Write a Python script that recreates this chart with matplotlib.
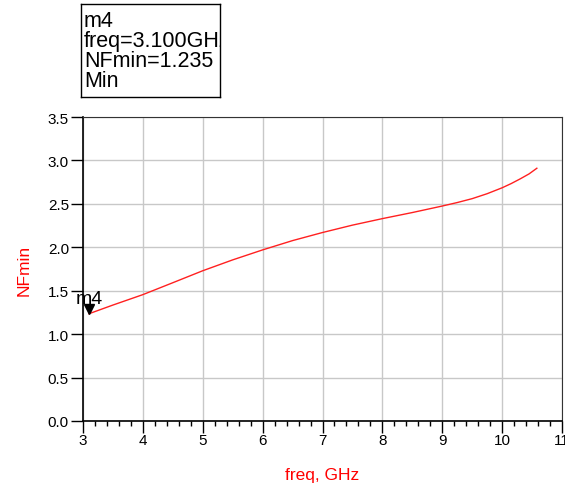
import matplotlib
matplotlib.use("Agg")
import matplotlib.pyplot as plt
from matplotlib.ticker import MultipleLocator

plt.rcParams['font.family'] = ['Liberation Sans', 'DejaVu Sans']

freq = [3.1, 3.5, 4.0, 4.5, 5.0, 5.5, 6.0, 6.5, 7.0, 7.5, 8.0, 8.5, 9.0, 9.25, 9.5, 9.75,
        10.0, 10.15, 10.3, 10.45, 10.58]
nfmin = [1.235, 1.335, 1.455, 1.592, 1.73, 1.855, 1.97, 2.077, 2.17, 2.255, 2.33, 2.40, 2.475,
         2.515, 2.56, 2.617, 2.685, 2.733, 2.787, 2.845, 2.91]
marker_name = "m4"
marker_freq = 3.1
marker_val = 1.235
box_lines = ["m4", "freq=3.100GHz", "NFmin=1.235", "Min"]

W, H = 565, 489
fig = plt.figure(figsize=(W/100, H/100), dpi=100)
ax = fig.add_axes([83/W, (H-422)/H, (562-83)/W, (422-118)/H])
ax.plot(freq, nfmin, color='#ff2020', lw=1.0, zorder=3)
ax.set_xlim(3, 11)
ax.set_ylim(0, 3.5)
ax.xaxis.set_minor_locator(MultipleLocator(0.2))
ax.set_xticks(range(3, 12))
ax.set_xticklabels([str(v) for v in range(3, 12)])
yt = [0, 0.5, 1, 1.5, 2, 2.5, 3, 3.5]
ax.set_yticks(yt)
ax.set_yticklabels([f"{v:.1f}" for v in yt])
ax.grid(True, which='major', color='#c8c8c8', lw=1.0)
ax.set_axisbelow(True)
ax.tick_params(axis='x', which='major', direction='out', length=8.5, width=1, labelsize=11, pad=0.5)
ax.tick_params(axis='x', which='minor', direction='out', length=3.6, width=1)
ax.tick_params(axis='y', which='major', direction='out', length=8.6, width=1, labelsize=11, pad=1.5)
for s in ['left', 'bottom']:
    ax.spines[s].set_color('black')
    ax.spines[s].set_linewidth(1.2)
ax.spines['top'].set_color('#333333')
ax.spines['right'].set_color('#333333')
ax.set_xlabel("freq, GHz", color='red', fontsize=12.5, labelpad=14)
ax.set_ylabel("NFmin", color='red', fontsize=12.5, labelpad=12)

ax.plot([marker_freq], [marker_val + 0.05], marker='v', color='black', ms=6.5, clip_on=False, zorder=4)
ax.annotate(marker_name, (marker_freq, marker_val), xytext=(0, 7.5), textcoords='offset points',
            ha='center', va='baseline', fontsize=14, annotation_clip=False)

bax = fig.add_axes([81/W, (H-98)/H, (220-81)/W, (98-5)/H])
bax.set_xticks([]); bax.set_yticks([])
bax.set_xlim(0, 1); bax.set_ylim(0, 1)
for s in bax.spines.values():
    s.set_color('black'); s.set_linewidth(1.0)
bax.text(0.02, 0.5, "\n".join(box_lines), ha='left', va='center', fontsize=15.5,
         linespacing=0.95, clip_on=True, transform=bax.transAxes)

fig.savefig("out.png", dpi=100)
